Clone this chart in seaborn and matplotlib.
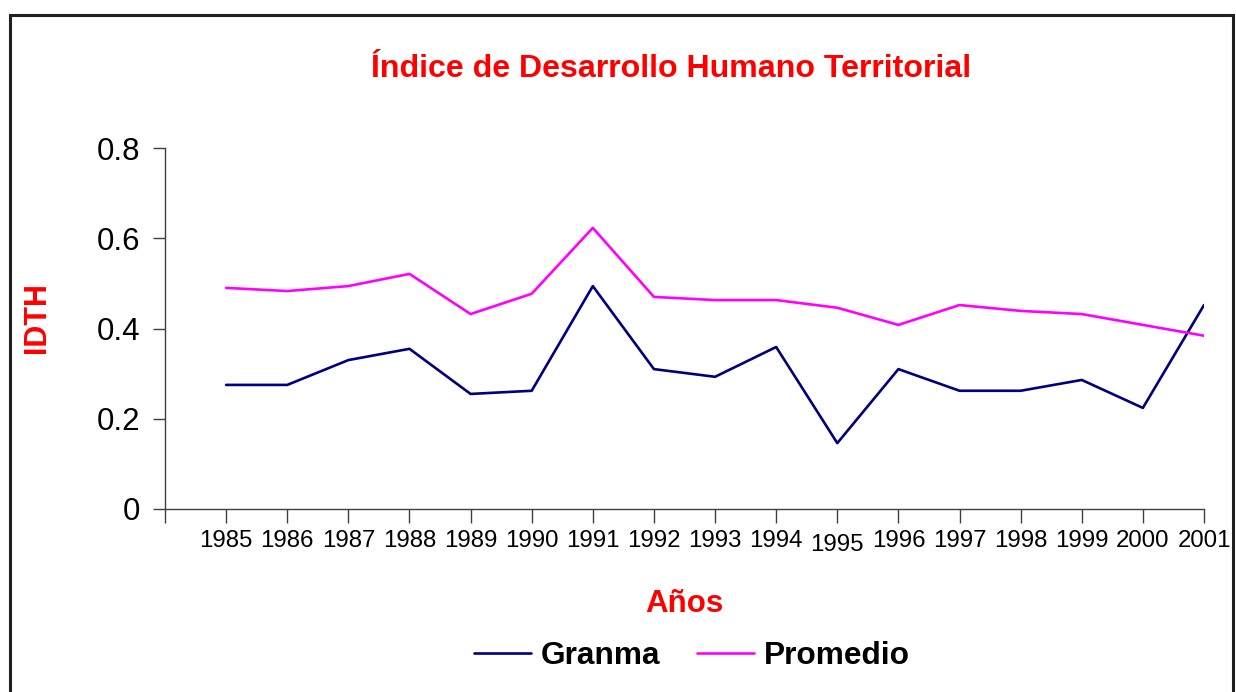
import matplotlib
matplotlib.use("Agg")
import matplotlib.pyplot as plt
import matplotlib.transforms as mtransforms
from matplotlib.patches import Rectangle
import seaborn as sns
import pandas as pd

years = [1985, 1986, 1987, 1988, 1989, 1990, 1991, 1992, 1993,
         1994, 1995, 1996, 1997, 1998, 1999, 2000, 2001]
granma = [0.275, 0.275, 0.330, 0.355, 0.255, 0.262, 0.494, 0.310, 0.293,
          0.359, 0.146, 0.310, 0.262, 0.262, 0.286, 0.224, 0.452]
promedio = [0.490, 0.483, 0.494, 0.521, 0.432, 0.477, 0.623, 0.470, 0.463,
            0.463, 0.446, 0.408, 0.452, 0.439, 0.432, 0.408, 0.384]
series_names = ["Granma", "Promedio"]
series_colors = ["#000080", "#FF00FF"]
y_ticks = [0, 0.2, 0.4, 0.6, 0.8]
y_tick_labels = ["0", "0.2", "0.4", "0.6", "0.8"]

sns.set_theme(style="white")
plt.rcParams["font.family"] = ["Liberation Sans", "DejaVu Sans"]
plt.rcParams["text.color"] = "black"
plt.rcParams["xtick.color"] = "black"
plt.rcParams["ytick.color"] = "black"
plt.rcParams["xtick.labelcolor"] = "black"
plt.rcParams["ytick.labelcolor"] = "black"

df = pd.DataFrame({
    "Año": years * 2,
    "IDTH": granma + promedio,
    "Serie": [series_names[0]] * len(years) + [series_names[1]] * len(years),
})

fig = plt.figure(figsize=(12.36, 6.92), dpi=100)
ax = fig.add_axes([165 / 1236, 1 - 509 / 692, (1204 - 165) / 1236, (509 - 148) / 692])

sns.lineplot(data=df, x="Año", y="IDTH", hue="Serie", palette=series_colors,
             linewidth=1.9, ax=ax, legend=False)

ax.set_xlim(years[0] - 1, years[-1])
ax.set_ylim(0, 0.8)
ax.set_xticks([years[0] - 1] + years)
ax.set_xticklabels([""] + [str(y) for y in years], fontsize=17.3, color="black")
ax.set_yticks(y_ticks)
ax.set_yticklabels(y_tick_labels, fontsize=22.5, color="black")

for s in ["top", "right"]:
    ax.spines[s].set_visible(False)
for s in ["left", "bottom"]:
    ax.spines[s].set_color("#404040")
    ax.spines[s].set_linewidth(1.0)

ax.tick_params(axis="x", direction="out", length=10, width=1.0, color="#404040",
               pad=5, bottom=True)
ax.tick_params(axis="y", direction="out", length=9, width=1.0, color="#404040",
               pad=9, left=True)

# 1995 label sits slightly lower in the original
for lbl in ax.get_xticklabels():
    if lbl.get_text() == "1995":
        lbl.set_transform(lbl.get_transform() +
                          mtransforms.ScaledTranslation(0, -3 / 72, fig.dpi_scale_trans))

ax.set_xlabel("")
ax.set_ylabel("")
fig.text(671 / 1236, 1 - 69 / 692, "Índice de Desarrollo Humano Territorial",
         color="red", fontsize=23.1, fontweight="bold", ha="center", va="center")
fig.text(684 / 1236, 1 - 604 / 692, "Años", color="red", fontsize=22.5,
         fontweight="bold", ha="center", va="center")
fig.text(37 / 1236, 1 - 318 / 692, "IDTH", color="red", fontsize=22,
         fontweight="bold", ha="center", va="center", rotation=90)

handles = [plt.Line2D([], [], color=c, linewidth=1.9) for c in series_colors]
leg = fig.legend(handles, series_names, loc="center", bbox_to_anchor=(692 / 1236, 1 - 656 / 692),
                 ncol=2, frameon=False, handlelength=1.8, handletextpad=0.3,
                 columnspacing=1.15, prop={"weight": "bold", "size": 22.8})
for t in leg.get_texts():
    t.set_color("black")

# outer frame
fig.patches.append(Rectangle((10 / 1236, -0.05), (1233 - 10) / 1236, 1.05 - 15 / 692,
                             transform=fig.transFigure, fill=False,
                             edgecolor="#202020", linewidth=2.2))

fig.savefig("out.png", dpi=100)
